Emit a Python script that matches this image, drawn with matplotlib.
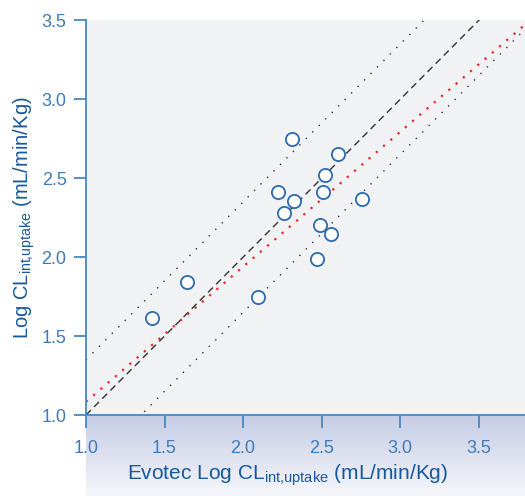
import matplotlib
matplotlib.use("Agg")
import matplotlib.pyplot as plt
import numpy as np
from matplotlib.colors import LinearSegmentedColormap

plt.rcParams["font.family"] = ["Liberation Sans", "DejaVu Sans"]
plt.rcParams["mathtext.fontset"] = "custom"
plt.rcParams["mathtext.rm"] = "Liberation Sans"
plt.rcParams["mathtext.it"] = "Liberation Sans:italic"

# Evotec vs. measured log intrinsic uptake clearance
evotec_log_cl = [1.42, 1.645, 2.097, 2.313, 2.605, 2.522, 2.223, 2.51,
                 2.325, 2.262, 2.76, 2.49, 2.56, 2.471]
log_cl = [1.617, 1.84, 1.748, 2.75, 2.655, 2.52, 2.41, 2.41,
          2.357, 2.28, 2.37, 2.203, 2.15, 1.99]

band_offset = 0.35          # dotted lines either side of unity
fit_slope = 0.855           # red dotted regression line
fit_intercept = 0.229

x_ticks = [1.0, 1.5, 2.0, 2.5, 3.0, 3.5]
y_ticks = [1.0, 1.5, 2.0, 2.5, 3.0, 3.5]

TICK_BLUE = "#3f7bbb"
LABEL_BLUE = "#17589d"
SPINE_BLUE = "#4a86c4"
MARKER_BLUE = "#2b6aae"

fig = plt.figure(figsize=(5.25, 4.96), dpi=100)

# light gradient band under the x axis
band = fig.add_axes([0.1638, 0.0, 0.8362, 0.1633])
cmap = LinearSegmentedColormap.from_list("band", ["#f6f7fb", "#c5cce4"])
band.imshow(np.linspace(0, 1, 100).reshape(-1, 1)[::-1], aspect="auto",
            cmap=cmap, extent=(0, 1, 0, 1))
band.axis("off")

ax = fig.add_axes([0.1638, 0.1633, 0.8362, 0.7954])
ax.set_facecolor("#f1f2f4")

xs = np.array([1.0, 3.8])
ax.plot(xs, xs, color="#333333", linestyle=(0, (5, 3.3)), linewidth=1.0, zorder=2)
ax.plot(xs, xs + band_offset, color="#333333", linestyle=(0, (1, 5.6)), linewidth=1.0, zorder=2)
ax.plot(xs, xs - band_offset, color="#333333", linestyle=(0, (1, 5.6)), linewidth=1.0, zorder=2)
ax.plot(xs, fit_slope * xs + fit_intercept, color="#e8262a", linestyle=(0, (1, 3.3)),
        linewidth=1.6, zorder=2)

ax.plot(evotec_log_cl, log_cl, linestyle="none", marker="o", markersize=9.5,
        markerfacecolor="white", markeredgecolor=MARKER_BLUE, markeredgewidth=1.3, zorder=3)

ax.set_xlim(1.0, 3.795)
ax.set_ylim(1.0, 3.5)
ax.set_xticks(x_ticks)
ax.set_yticks(y_ticks)
ax.set_xticklabels(["{:.1f}".format(v) for v in x_ticks])
ax.set_yticklabels(["{:.1f}".format(v) for v in y_ticks])

for side in ("top", "right"):
    ax.spines[side].set_visible(False)
for side in ("left", "bottom"):
    ax.spines[side].set_color(SPINE_BLUE)
    ax.spines[side].set_linewidth(1.3)
ax.tick_params(axis="both", direction="out", length=9, width=1.3, color=SPINE_BLUE,
               labelcolor=TICK_BLUE, labelsize=13)
ax.tick_params(axis="x", pad=9)
ax.tick_params(axis="y", pad=5)

ax.set_xlabel(r"Evotec Log CL$_{\mathrm{int{,}uptake}}$ (mL/min/Kg)", color=LABEL_BLUE,
              fontsize=15, labelpad=4, x=0.46)
ax.set_ylabel(r"Log CL$_{\mathrm{int{,}uptake}}$ (mL/min/Kg)", color=LABEL_BLUE,
              fontsize=14.5, labelpad=3, y=0.5)

fig.savefig("out.png", dpi=100)
